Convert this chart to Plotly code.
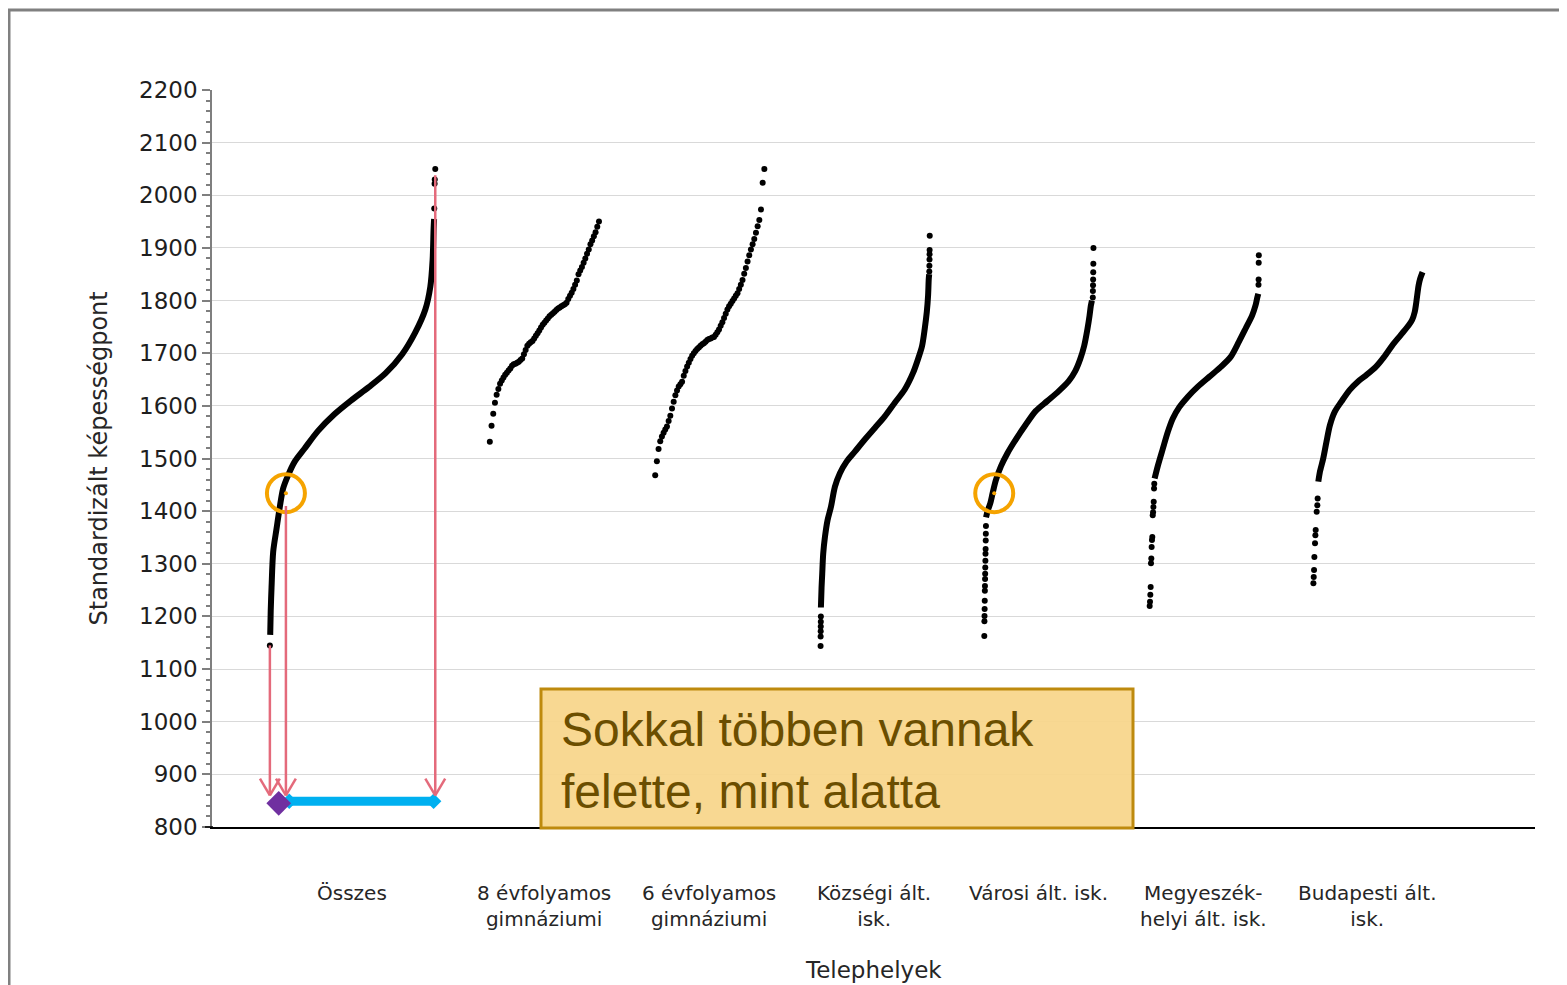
import plotly.graph_objects as go

# kategóriák
categories = ["Összes", "8 évfolyamos<br>gimnáziumi", "6 évfolyamos<br>gimnáziumi",
              "Községi ált.<br>isk.", "Városi ált. isk.", "Megyeszék-<br>helyi ált. isk.",
              "Budapesti ált.<br>isk."]

# Összes: sűrű görbe + szórt pontok (rang %, pontszám)
osszes_curve_pct = [0.2, 0.5, 1.0, 2.0, 4, 6, 8, 11, 15, 21, 29, 39, 49, 60, 70, 80, 88, 94, 97, 98.4, 99.0, 99.3]
osszes_curve_score = [1165, 1210, 1255, 1323, 1366, 1408, 1443, 1468, 1494, 1519, 1552, 1584, 1610, 1636, 1662,
                      1698, 1740, 1783, 1826, 1877, 1936, 1955]
osszes_dot_pct = [0, 99.4, 99.6, 99.7, 100]
osszes_dot_score = [1145, 1975, 2022, 2030, 2050]

# 8 évfolyamos gimnáziumok (egyenletes rang)
gimn8_score = [1532, 1562, 1585, 1606, 1621, 1632, 1642, 1648, 1654, 1659, 1663, 1667, 1671, 1676, 1679, 1680,
               1682, 1684, 1687, 1690, 1698, 1706, 1714, 1718, 1721, 1723, 1728, 1733, 1738, 1743, 1749, 1754,
               1758, 1762, 1766, 1770, 1773, 1776, 1779, 1782, 1785, 1787, 1789, 1791, 1793, 1796, 1803, 1809,
               1815, 1822, 1830, 1838, 1850, 1857, 1864, 1872, 1880, 1889, 1897, 1907, 1914, 1922, 1930, 1940, 1950]

# 6 évfolyamos gimnáziumok (egyenletes rang)
gimn6_score = [1468, 1495, 1518, 1533, 1542, 1549, 1555, 1561, 1571, 1581, 1595, 1608, 1620, 1629, 1637, 1641,
               1646, 1657, 1666, 1675, 1682, 1689, 1695, 1700, 1704, 1708, 1711, 1714, 1717, 1719, 1722, 1725,
               1727, 1728, 1730, 1731, 1735, 1740, 1745, 1752, 1759, 1767, 1775, 1783, 1789, 1794, 1799, 1804,
               1809, 1814, 1822, 1830, 1839, 1851, 1862, 1874, 1886, 1897, 1907, 1917, 1929, 1941, 1953, 1973,
               2024, 2050]

# Községi ált. isk.
kozsegi_curve_pct = [0.3, 0.9, 1.5, 2.4, 4.0, 6.4, 9.5, 13.1, 17.7, 23.8, 31.4, 40.5, 49.7, 58.8, 68, 77.1, 84.8,
                     89.3, 93, 95.4, 97.3, 98.5, 99.1, 99.5]
kozsegi_curve_score = [1217, 1255, 1281, 1319, 1351, 1383, 1408, 1446, 1472, 1494, 1513, 1536, 1558, 1580, 1606,
                       1631, 1663, 1689, 1714, 1746, 1778, 1810, 1841, 1850]
kozsegi_dot_pct = [0, 0.05, 0.1, 0.15, 0.2, 0.25, 99.6, 99.7, 99.8, 99.85, 99.9, 100]
kozsegi_dot_score = [1144, 1162, 1172, 1181, 1190, 1200, 1855, 1866, 1878, 1888, 1896, 1923]

# Városi ált. isk.
varosi_curve_pct = [1.6, 3.0, 5.5, 7.6, 10.6, 15.2, 21.2, 28.8, 37.9, 47, 57.6, 68.2, 77.3, 83.3, 87.9, 91.5, 94.5,
                    96.4, 97.6, 98.6]
varosi_curve_score = [1388, 1400, 1415, 1434, 1459, 1485, 1510, 1536, 1564, 1590, 1609, 1628, 1647, 1666, 1689,
                      1714, 1746, 1771, 1790, 1800]
varosi_dot_pct = [0, 0.1, 0.2, 0.3, 0.4, 0.5, 0.6, 0.7, 0.8, 0.9, 1.0, 1.1, 1.2, 1.3, 1.4, 1.5,
                  99.4, 99.5, 99.6, 99.7, 99.8, 99.9, 100]
varosi_dot_score = [1163, 1191, 1201, 1214, 1230, 1249, 1258, 1271, 1281, 1293, 1306, 1319, 1328, 1344, 1357, 1372,
                    1806, 1818, 1829, 1840, 1854, 1870, 1900]

# Megyeszékhelyi ált. isk.
megye_curve_pct = [4.5, 7.6, 12.1, 16.7, 21.2, 27.3, 34.8, 43.9, 54.5, 65.2, 74.2, 81.8, 87.9, 93.9, 97, 98.5, 99.5]
megye_curve_score = [1462, 1487, 1519, 1551, 1576, 1598, 1617, 1636, 1655, 1674, 1693, 1722, 1747, 1772, 1791,
                     1805, 1813]
megye_dot_pct = [0, 0.3, 0.6, 0.9, 1.2, 1.5, 1.8, 2.1, 2.4, 2.8, 3.1, 3.4, 3.7, 4.0, 4.2, 99.7, 99.8, 99.9, 100]
megye_dot_score = [1220, 1228, 1241, 1256, 1301, 1310, 1332, 1345, 1351, 1392, 1398, 1408, 1418, 1443, 1452,
                   1830, 1840, 1872, 1886]

# Budapesti ált. isk.
bp_curve_pct = [4.5, 6, 9, 12, 15.1, 19.6, 25.6, 33.1, 40.7, 48.2, 57.2, 64.8, 72.3, 79.8, 87.3, 90.4, 92.8, 94.3,
                95.5, 96.4, 97.9, 100]
bp_curve_score = [1456, 1475, 1500, 1532, 1563, 1589, 1608, 1630, 1646, 1658, 1674, 1693, 1715, 1734, 1753, 1763,
                  1778, 1797, 1816, 1829, 1842, 1854]
bp_dot_pct = [0, 0.3, 0.6, 0.9, 1.5, 1.8, 2.1, 3.0, 3.6, 3.9]
bp_dot_score = [1263, 1275, 1288, 1313, 1339, 1354, 1364, 1399, 1411, 1424]

# kiemelt iskola (rang % az Összes és a Városi csoportban)
highlight_pct = [9.7, 9.1]
highlight_score = 1434

# csoportok helye a vízszintes tengelyen
group_left = [0.35, 1.68, 2.68, 3.68, 4.67, 5.67, 6.66]
group_width = [1.0, 0.66, 0.66, 0.66, 0.66, 0.66, 0.66]


def gx(g, pcts):
    return [group_left[g] + p / 100 * group_width[g] for p in pcts]


def even_pct(n):
    return [i * 100 / (n - 1) for i in range(n)]


fig = go.Figure()

curves = [
    (0, osszes_curve_pct, osszes_curve_score),
    (3, kozsegi_curve_pct, kozsegi_curve_score),
    (4, varosi_curve_pct, varosi_curve_score),
    (5, megye_curve_pct, megye_curve_score),
    (6, bp_curve_pct, bp_curve_score),
]
for g, p, s in curves:
    fig.add_trace(go.Scatter(
        x=gx(g, p), y=s, mode="lines",
        line=dict(color="black", width=6, shape="spline", smoothing=0.8),
        hoverinfo="skip"
    ))

dots = [
    (0, osszes_dot_pct, osszes_dot_score),
    (1, even_pct(len(gimn8_score)), gimn8_score),
    (2, even_pct(len(gimn6_score)), gimn6_score),
    (3, kozsegi_dot_pct, kozsegi_dot_score),
    (4, varosi_dot_pct, varosi_dot_score),
    (5, megye_dot_pct, megye_dot_score),
    (6, bp_dot_pct, bp_dot_score),
]
for g, p, s in dots:
    fig.add_trace(go.Scatter(
        x=gx(g, p), y=s, mode="markers",
        marker=dict(color="black", size=6, line=dict(width=0))
    ))

hx = gx(0, [highlight_pct[0]]) + gx(4, [highlight_pct[1]])

# narancs karikák
fig.add_trace(go.Scatter(
    x=hx, y=[highlight_score, highlight_score], mode="markers",
    marker=dict(symbol="circle-open", size=38, color="#F5A300", line=dict(width=4))
))
fig.add_trace(go.Scatter(
    x=hx, y=[highlight_score, highlight_score], mode="markers",
    marker=dict(size=4, color="#F5A300")
))

# nyilak: min, kiemelt, max
pink = "#E46A7B"
x_min = group_left[0]
x_hl = hx[0]
x_max = group_left[0] + group_width[0]
tip = 860
head_dx = 0.06
head_dy = 32
arrows = [(x_min, min(osszes_dot_score)), (x_hl, highlight_score - 24), (x_max, max(osszes_dot_score) - 12)]
for ax_, top in arrows:
    fig.add_shape(type="line", x0=ax_, x1=ax_, y0=top, y1=tip, line=dict(color=pink, width=2.5))
    fig.add_shape(type="line", x0=ax_ - head_dx, x1=ax_, y0=tip + head_dy, y1=tip, line=dict(color=pink, width=2.5))
    fig.add_shape(type="line", x0=ax_ + head_dx, x1=ax_, y0=tip + head_dy, y1=tip, line=dict(color=pink, width=2.5))

# kék sáv (felette) és lila rombusz (alatta)
fig.add_trace(go.Scatter(
    x=[x_hl + 0.02, x_max - 0.01], y=[849, 849], mode="lines+markers",
    line=dict(color="#00B0F0", width=9),
    marker=dict(symbol="diamond", size=12, color="#00B0F0")
))
fig.add_trace(go.Scatter(
    x=[(x_min + x_hl) / 2 + 0.005], y=[845], mode="markers",
    marker=dict(symbol="diamond", size=19, color="#7030A0")
))

# kategória feliratok
for g, name in enumerate(categories):
    fig.add_annotation(
        x=group_left[g] + group_width[g] / 2 - 0.005, y=0, xref="x", yref="paper",
        text=name, showarrow=False, yanchor="top", yshift=-52,
        font=dict(family="DejaVu Sans", size=20, color="#262626"), align="center"
    )

fig.add_annotation(
    x=4.0, y=0, xref="x", yref="paper", text="Telephelyek", showarrow=False,
    yanchor="middle", yshift=-143, font=dict(family="DejaVu Sans", size=23, color="#262626")
)
fig.add_annotation(
    x=0, y=0.5, xref="paper", yref="paper", text="Standardizált képességpont", showarrow=False,
    textangle=-90, xanchor="center", yanchor="middle", xshift=-114,
    font=dict(family="DejaVu Sans", size=24, color="#262626")
)

# képernyő-pixelek -> papír koordináták (a lap 8 px-es margóját levonva)
OFF = 8
FW, FH = 1567 - OFF, 985 - OFF
W, H, L, T = 1323, 737, 212 - OFF, 90 - OFF


def pxx(px):
    return (px - OFF - L) / W


def pxy(py):
    return (T + H - (py - OFF)) / H


# szövegdoboz
fig.add_shape(type="rect", xref="paper", yref="paper",
              x0=pxx(541), x1=pxx(1133), y0=pxy(828), y1=pxy(689),
              fillcolor="rgba(247,213,138,0.93)", line=dict(color="#BE8A0E", width=3))
fig.add_annotation(
    x=pxx(559), y=pxy(760), xref="paper", yref="paper",
    text="Sokkal többen vannak<br>felette, mint alatta", showarrow=False,
    xanchor="left", yanchor="middle", align="left",
    font=dict(family="Liberation Sans", size=48, color="#6B4E00")
)

# dia kerete
fig.add_shape(type="line", xref="paper", yref="paper", x0=pxx(7), x1=pxx(1570), y0=pxy(10), y1=pxy(10),
              line=dict(color="#808080", width=3))
fig.add_shape(type="line", xref="paper", yref="paper", x0=pxx(9), x1=pxx(9), y0=pxy(10), y1=pxy(990),
              line=dict(color="#808080", width=3))
# az x tengely vonala kicsit túlnyúlik balra
fig.add_shape(type="line", xref="paper", yref="paper", x0=pxx(205), x1=pxx(213), y0=0, y1=0,
              line=dict(color="black", width=1.5))

fig.update_yaxes(
    range=[800, 2200],
    tickmode="linear", tick0=800, dtick=100,
    showgrid=True, gridcolor="#d9d9d9", gridwidth=1,
    zeroline=False,
    showline=True, linecolor="#7f7f7f", linewidth=1.5,
    ticks="outside", ticklen=8, tickwidth=1.5, tickcolor="#7f7f7f",
    minor=dict(dtick=20, ticks="outside", ticklen=4, tickcolor="#7f7f7f", showgrid=False),
    tickfont=dict(family="DejaVu Sans", size=23, color="#1e1e1e"),
    fixedrange=True
)

fig.update_xaxes(
    range=[0, 8],
    showgrid=False, zeroline=False, showticklabels=False,
    showline=True, linecolor="black", linewidth=1.5,
    fixedrange=True
)

fig.update_layout(
    width=FW, height=FH,
    paper_bgcolor="white", plot_bgcolor="white",
    margin=dict(l=L, r=FW - L - W, t=T, b=FH - T - H),
    showlegend=False
)

fig.write_html("out.html")
